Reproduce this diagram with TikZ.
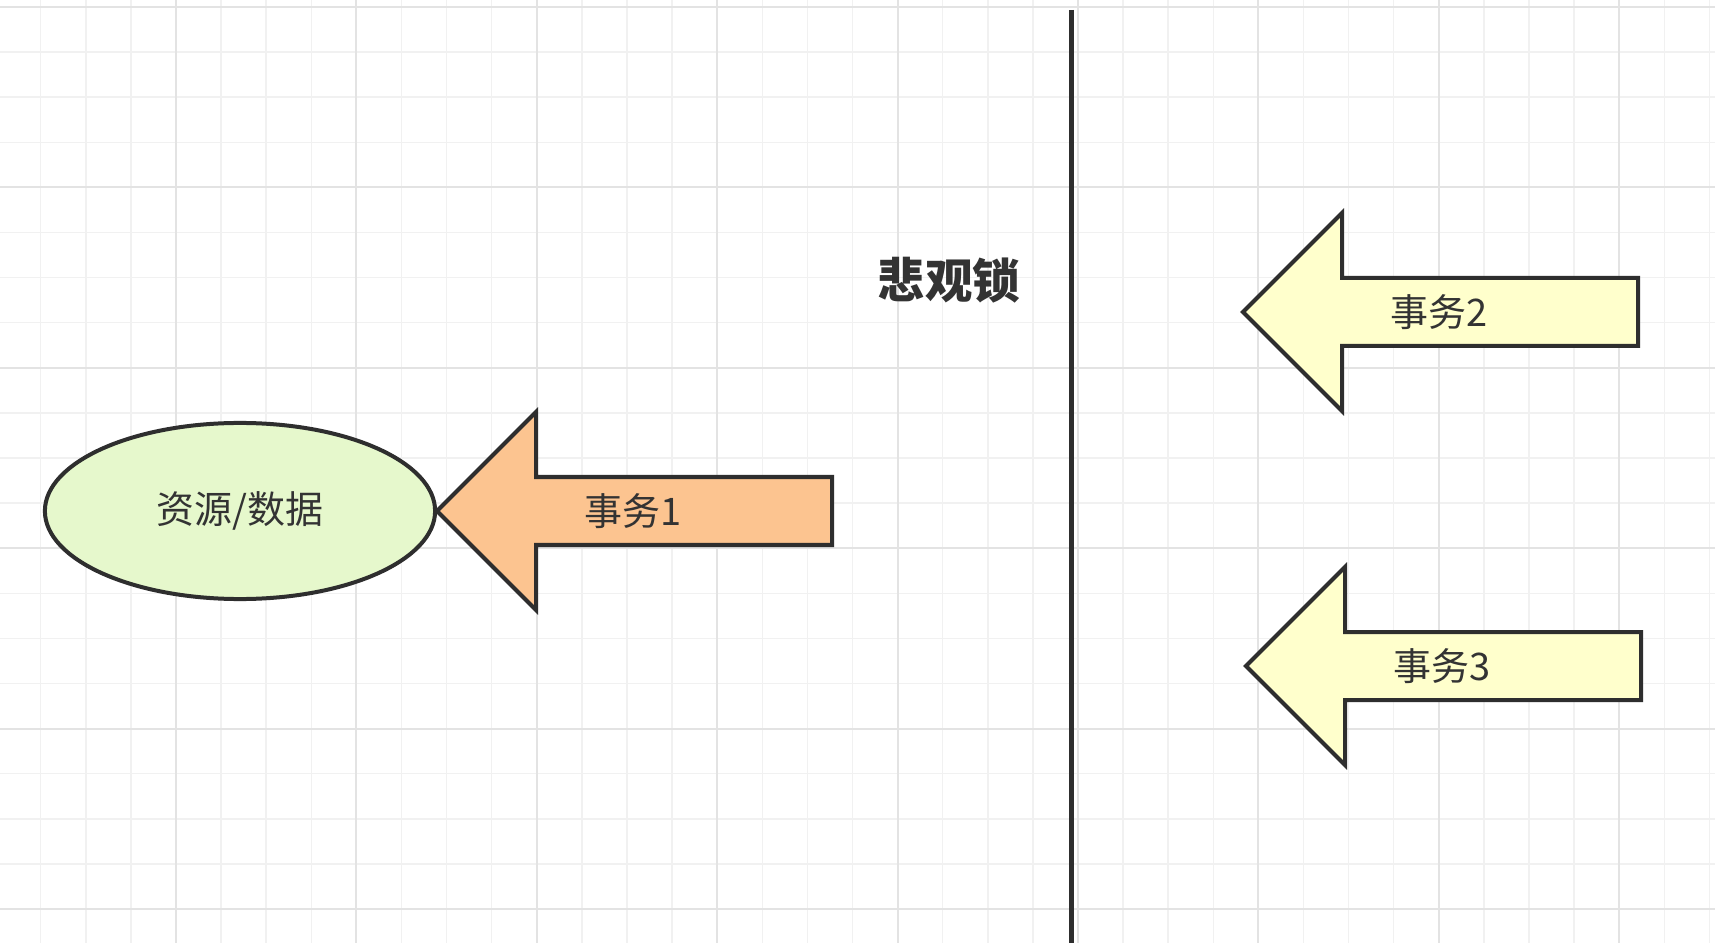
\documentclass[tikz,border=0pt]{standalone}
\usepackage{fontspec}
\usetikzlibrary{shapes.geometric}
\newfontfamily\cjk{Noto Sans CJK SC}
\definecolor{gridminor}{HTML}{F1F1F1}
\definecolor{gridmajor}{HTML}{E3E3E3}
\definecolor{edge}{HTML}{2E2E2E}
\definecolor{ink}{HTML}{333333}
\definecolor{resfill}{HTML}{E6F8CC}
\definecolor{peach}{HTML}{FCC490}
\definecolor{lemon}{HTML}{FFFFCC}

\begin{document}
\begin{tikzpicture}[x=0.01cm, y=-0.01cm,
    minorline/.style={draw=gridminor, line width=0.015cm},
    majorline/.style={draw=gridmajor, line width=0.02cm},
    outline/.style={draw=edge, line width=0.04cm},
    txt/.style={font=\cjk\fontsize{10.8}{13}\selectfont, text=ink, inner sep=0pt}]
\useasboundingbox (0,0) rectangle (1715,943);
\fill[white] (0,0) rectangle (1715,943);
% background grid
\foreach \i in {0,...,38}
    \draw[minorline] ({-4.4+45.1*\i},0) -- ({-4.4+45.1*\i},943);
\foreach \j in {0,...,20}
    \draw[minorline] (0,{7+45.1*\j}) -- (1715,{7+45.1*\j});
\foreach \i in {0,...,8}
    \draw[majorline] ({176+180.4*\i},0) -- ({176+180.4*\i},943);
\foreach \j in {0,...,5}
    \draw[majorline] (0,{7+180.4*\j}) -- (1715,{7+180.4*\j});
% divider and title
\draw[outline, line width=0.05cm] (1071,10) -- (1071,943);
\node[txt, font=\cjk\bfseries\fontsize{13.5}{16}\selectfont] (title) at (949,280) {悲观锁};
\node[outline, ellipse, fill=resfill, txt, minimum width=3.9cm, minimum height=1.76cm] (res) at (240,511) {资源/数据};
% transactions
\foreach \tx/\ty/\col [count=\i] in {437/511/peach, 1243/312/lemon, 1246/666/lemon}{
    \draw[outline, fill=\col] (\tx,\ty) -- ++(99,-99) -- ++(0,65) -- ++(296,0) -- ++(0,68)
        -- ++(-296,0) -- ++(0,65) -- cycle;
    \node[txt] (txn\i) at ({\tx+196},\ty) {事务\i};
}
\end{tikzpicture}
\end{document}
